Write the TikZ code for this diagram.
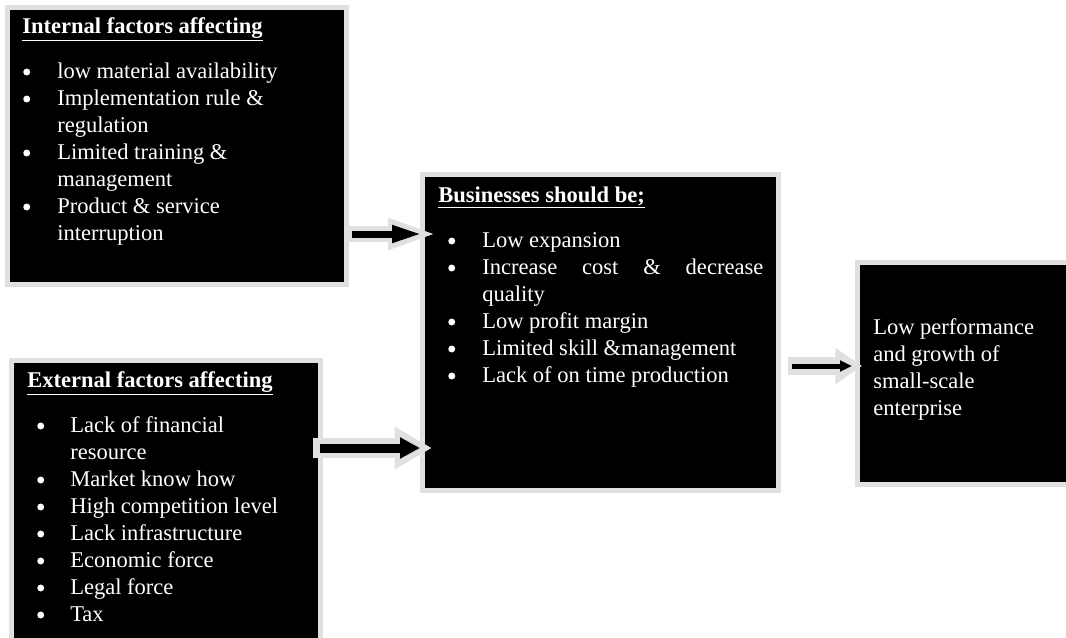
\documentclass[tikz,border=0pt]{standalone}
\usepackage{fontspec}
\setmainfont{Liberation Serif}
\usetikzlibrary{arrows.meta}
\tikzset{
	box/.style={fill=black,inner sep=0pt,outer sep=0pt,anchor=north west,preaction={draw=black!12,line width=7.5pt}},
	txt/.style={text=white,inner sep=0pt,anchor=base west,font=\fontsize{16.9pt}{20.25pt}\selectfont},
	rim/.style n args={3}{draw=black!12,line width=#1,-{Triangle[width=#2,length=#3]}},
	core/.style n args={3}{draw=black,line width=#1,-{Triangle[width=#2,length=#3]}}
}
\newcommand{\blob}{\tikz[baseline=-4.5pt]\fill[white] (0,0) circle (2.6pt);}

\begin{document}
\begin{tikzpicture}[x=0.75pt,y=-0.75pt]
            \useasboundingbox[fill=white] (0,0) rectangle (1066,637);
            \node[box,minimum width=250.5pt,minimum height=204pt] (int) at (10,10) {};
            \node[box,minimum width=228pt,minimum height=217.5pt] (ext) at (14,363) {};
            \node[box,minimum width=263.25pt,minimum height=233.25pt] (biz) at (425,177) {};
            \node[box,minimum width=161.25pt,minimum height=162.75pt] (res) at (860,265) {};
            \node[txt] (inttxt) at (22,33) {\begin{tabular}[t]{@{\hspace{0.75pt}}p{25.5pt}@{}l@{}}
                \multicolumn{2}{@{}l@{}}{\textbf{\underline{Internal factors affecting}}}\\[13.5pt]
                \blob & low material availability\\
                \blob & Implementation rule \&\\
                & regulation\\
                \blob & Limited training \&\\
                & management\\
                \blob & Product \& service\\
                & interruption
            \end{tabular}};
            \node[txt] (exttxt) at (27,387) {\begin{tabular}[t]{@{\hspace{7.5pt}}p{24.75pt}@{}l@{}}
                \multicolumn{2}{@{}l@{}}{\textbf{\underline{External factors affecting}}}\\[13.5pt]
                \blob & Lack of financial\\
                & resource\\
                \blob & Market know how\\
                \blob & High competition level\\
                \blob & Lack infrastructure\\
                \blob & Economic force\\
                \blob & Legal force\\
                \blob & Tax
            \end{tabular}};
            \node[txt] (biztxt) at (438,202) {\begin{tabular}[t]{@{\hspace{7.5pt}}p{25.5pt}@{}l@{}}
                \multicolumn{2}{@{}l@{}}{\textbf{\underline{Businesses should be;}}}\\[13.5pt]
                \blob & Low expansion\\
                \blob & \makebox[210.75pt][s]{Increase cost \& decrease}\\
                & quality\\
                \blob & Low profit margin\\
                \blob & Limited skill \&management\\
                \blob & Lack of on time production
            \end{tabular}};
            \node[txt] (restxt) at (873,334) {\begin{tabular}[t]{@{}l@{}}
                Low performance\\
                and growth of\\
                small-scale\\
                enterprise
            \end{tabular}};
            % arrows between the boxes
            \coordinate (inA) at (348,234);
            \coordinate (inB) at (438,234);
            \coordinate (exA) at (313,448);
            \coordinate (exB) at (432,448);
            \coordinate (bzA) at (788,366);
            \coordinate (bzB) at (862,366);
            \draw[rim={12pt}{21pt}{37.5pt}] (inA) -- (inB);
            \draw[core={5.25pt}{12pt}{22.5pt},shorten <=3pt,shorten >=12pt] (inA) -- (inB);
            \draw[rim={15pt}{30pt}{28pt}] (exA) -- (exB);
            \draw[core={6.75pt}{15pt}{15pt},shorten <=5.25pt,shorten >=9pt] (exA) -- (exB);
            \draw[rim={14pt}{26pt}{20pt}] (bzA) -- (bzB);
            \draw[core={3.75pt}{8pt}{9pt},shorten <=3pt,shorten >=7.5pt] (bzA) -- (bzB);
        \end{tikzpicture}
\end{document}
